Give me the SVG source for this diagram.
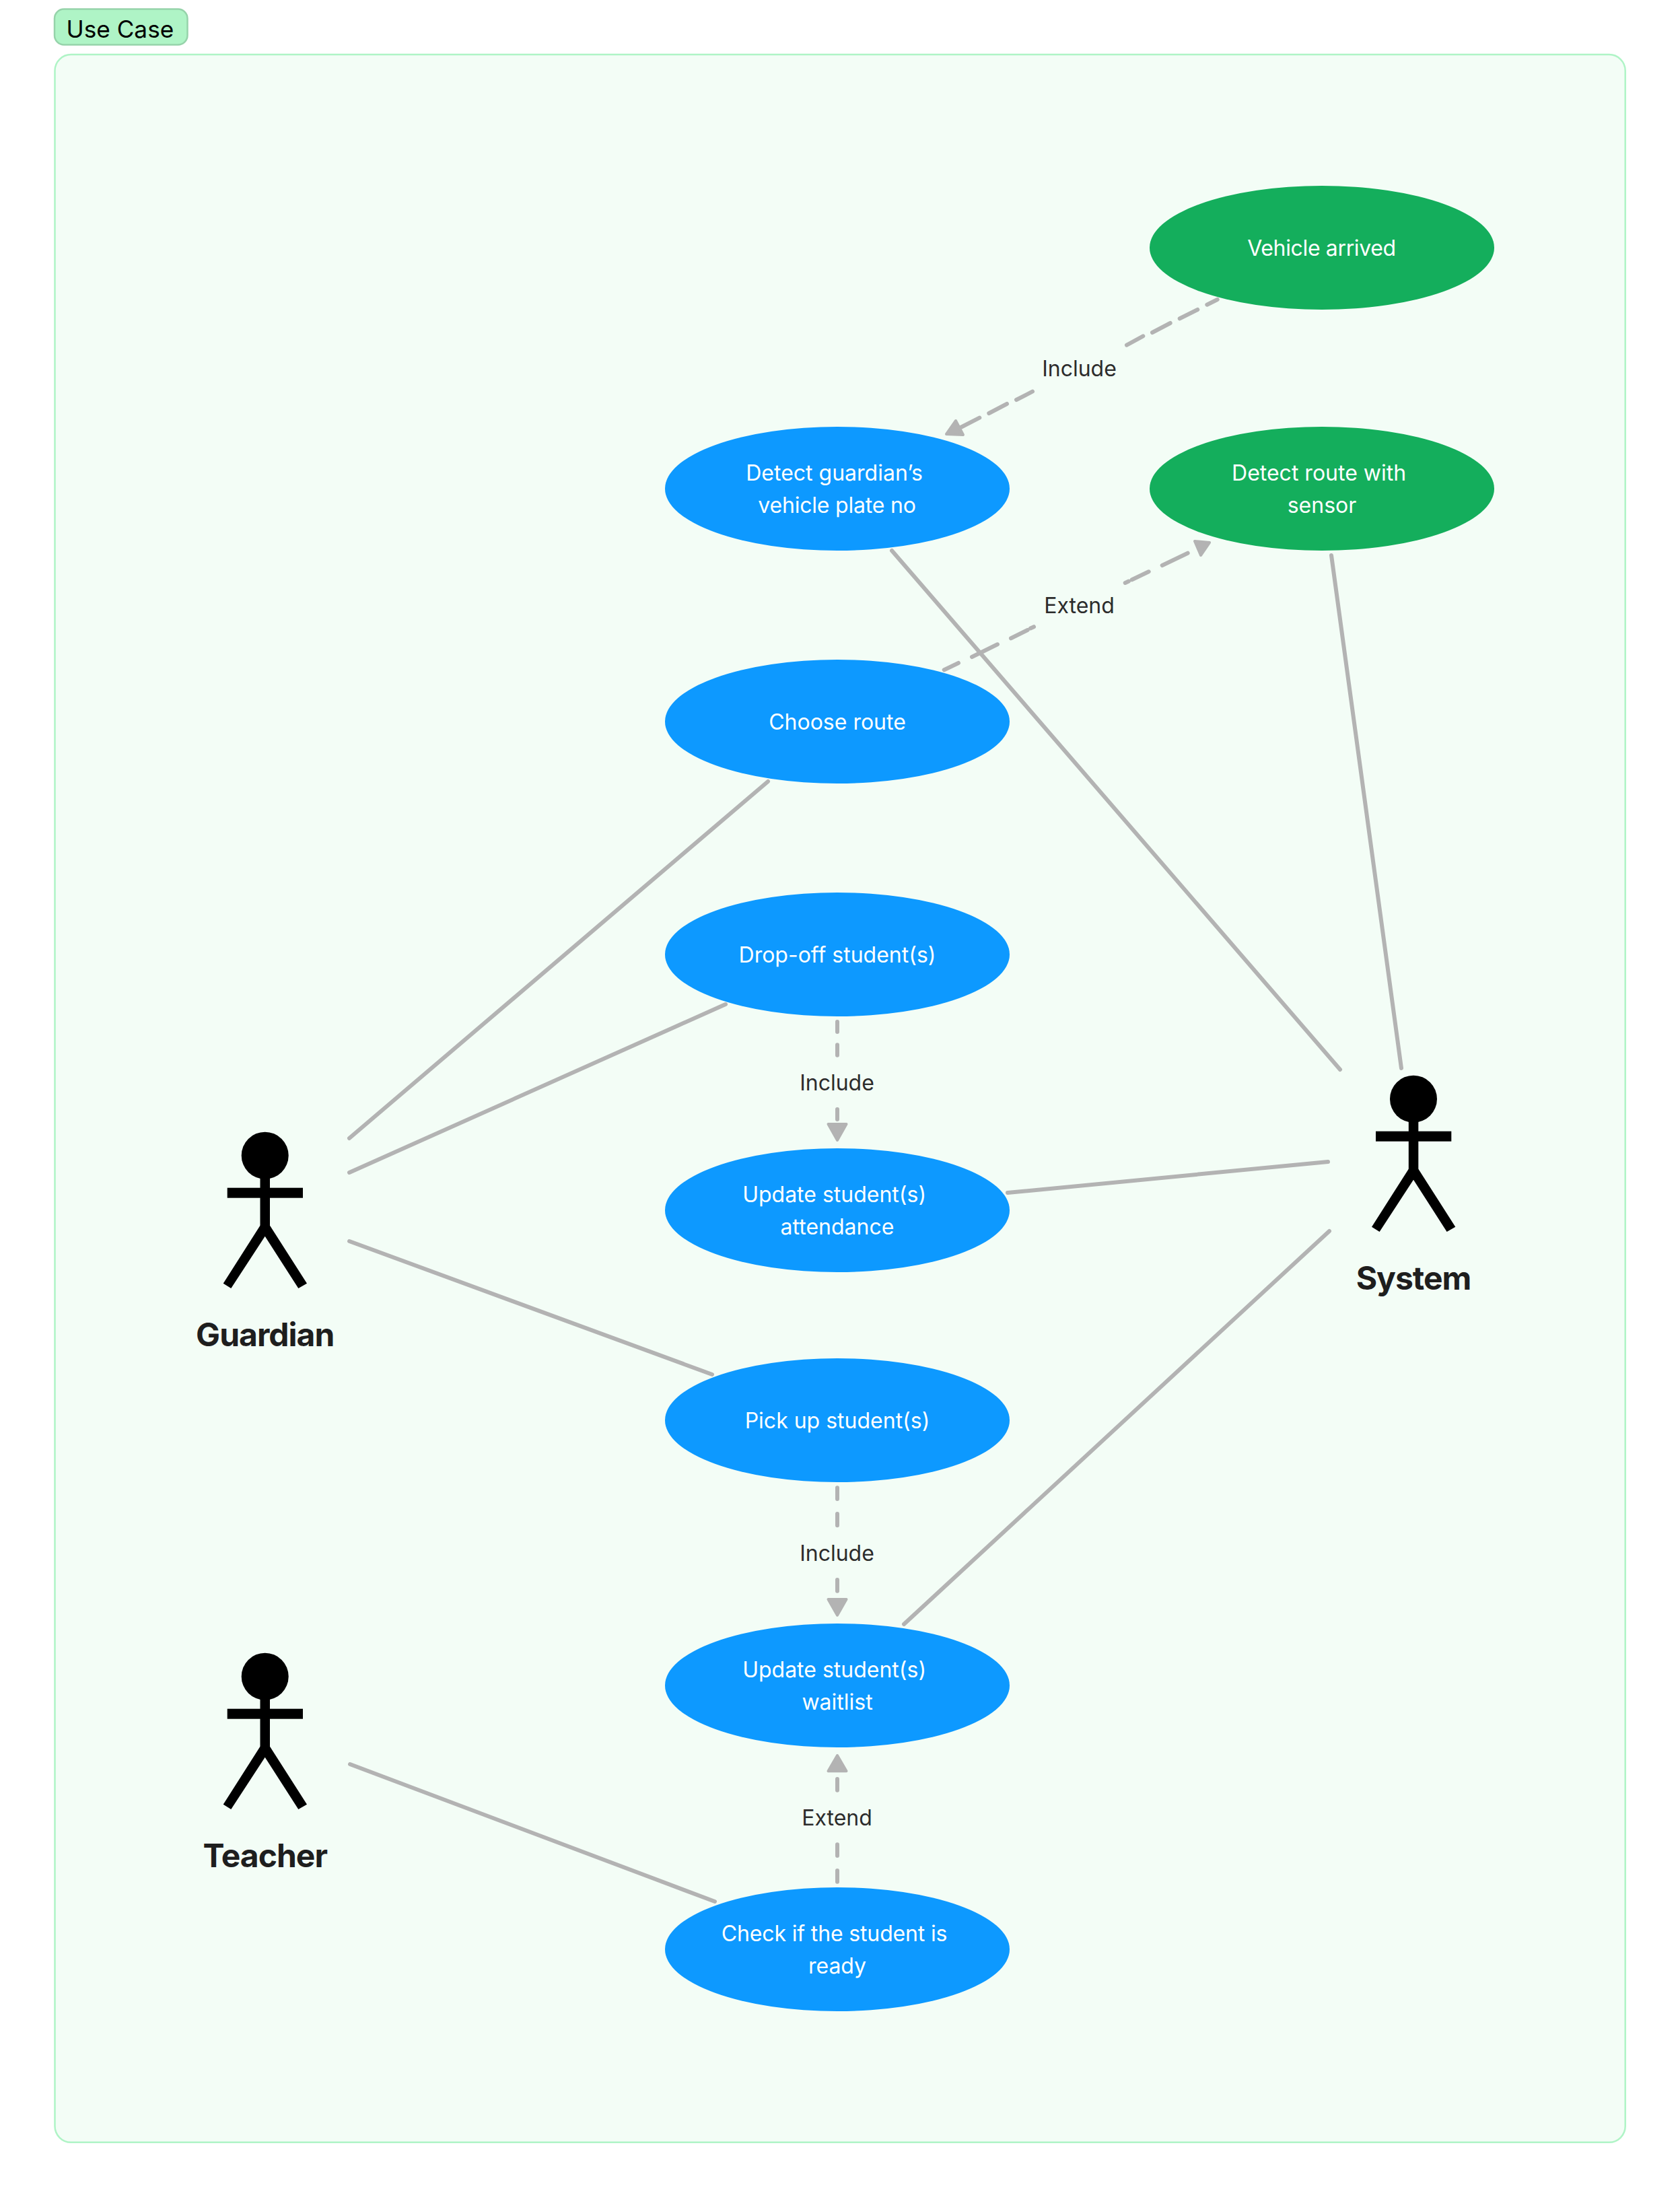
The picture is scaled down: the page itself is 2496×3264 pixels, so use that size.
<svg xmlns="http://www.w3.org/2000/svg" width="2496" height="3264" viewBox="0 0 2496 3264">
<style>
text{font-family:"Inter","Noto Sans",sans-serif}
.uc{fill:#0D99FF}.sys{fill:#14AE5C}
.ut{fill:#fff;font-size:32px;text-anchor:middle}
.lb{fill:#2c2c2c;font-size:32px;text-anchor:middle}
.an{fill:#1E1E1E;font-size:48px;font-weight:700;letter-spacing:-1px;text-anchor:middle}
.ln{fill:none;stroke:#B3B3B3;stroke-width:6;stroke-linecap:round}
.ah{fill:#B3B3B3;stroke:#B3B3B3;stroke-width:4;stroke-linejoin:round}
</style>
<defs>
<g id="actor">
<circle cx="0" cy="0" r="35"/>
<rect x="-7.2" y="30" width="14.5" height="75"/>
<rect x="-56" y="48" width="112.3" height="15"/>
<polygon points="-7.2,104 -62,190 -50.4,197.3 0,120 49.6,197.3 62.3,190 7.3,104"/>
</g>
</defs>
<g id="section">
<rect x="81.5" y="81" width="2333.2" height="3101.8" rx="24" fill="#F3FDF6" stroke="#AFF4C6" stroke-width="2.5"/>
<rect x="81" y="13.5" width="197.5" height="53" rx="14" fill="#AFF4C6" stroke="#96D3AA" stroke-width="2.5"/>
<text x="98.5" y="55.6" font-size="35.2" fill="#000">Use Case</text>
</g>
<g id="connectors">
<path class="ln" d="M1325 818L1991 1589M1978 825L2082 1587M1141 1161L519 1691M1078 1492L519 1742M1058 2042L519 1844M1497 1772L1973 1726M1343 2413L1975 1829M1062 2825L520 2621"/>
<path class="ln" d="M1808.7 445L1793.3 452.7M1779.3 460L1752.7 473.3M1738.7 480L1712 494M1698.3 499.3L1674 512.7M1534 581.7L1510 594M1496 600L1469.3 614M1455.3 620.7L1427.3 635"/>
<polygon class="ah" points="1406,645 1420,625 1431,646"/>
<path class="ln" d="M1402.7 995.3L1424 985M1444 976L1482 957.3M1502 948.3L1526.7 936M1531 933.5L1536 931.2M1671.7 866L1677 863.5M1681.7 861.3L1706.7 849.3M1726.7 840L1764.7 821.7"/>
<polygon class="ah" points="1797,806 1775,804 1784,825"/>
<path class="ln" d="M1244 1518V1533M1244 1552.3V1567.7M1244 1648V1663"/>
<polygon class="ah" points="1230.5,1670 1257.5,1670 1244,1694"/>
<path class="ln" d="M1244 2210.3V2227M1244 2249V2266.3M1244 2347V2363.7"/>
<polygon class="ah" points="1230.5,2376 1257.5,2376 1244,2399.7"/>
<path class="ln" d="M1244 2659.7V2643M1244 2757V2740.3M1244 2795.7V2779"/>
<polygon class="ah" points="1230.5,2631.3 1257.5,2631.3 1244,2608"/>
<text class="lb" x="1603.5" y="559">Include</text>
<text class="lb" x="1603.5" y="910.7">Extend</text>
<text class="lb" x="1243.5" y="1620">Include</text>
<text class="lb" x="1243.5" y="2319">Include</text>
<text class="lb" x="1243.5" y="2711.7">Extend</text>
</g>
<g id="uc-vehicle-arrived"><ellipse class="sys" cx="1964" cy="368" rx="256" ry="92"/><text class="ut" x="1963.5" y="380" letter-spacing="-0.35">Vehicle arrived</text></g>
<g id="uc-detect-plate"><ellipse class="uc" cx="1244" cy="726" rx="256" ry="92"/><text class="ut" x="1239.6" y="714">Detect guardian’s</text><text class="ut" x="1243.5" y="762" letter-spacing="-0.2">vehicle plate no</text></g>
<g id="uc-detect-route"><ellipse class="sys" cx="1964" cy="726" rx="256" ry="92"/><text class="ut" x="1959.6" y="714">Detect route with</text><text class="ut" x="1964" y="762">sensor</text></g>
<g id="uc-choose-route"><ellipse class="uc" cx="1244" cy="1072" rx="256" ry="92"/><text class="ut" x="1244" y="1084">Choose route</text></g>
<g id="uc-drop-off"><ellipse class="uc" cx="1244" cy="1418" rx="256" ry="92"/><text class="ut" x="1244" y="1430">Drop-off student(s)</text></g>
<g id="uc-attendance"><ellipse class="uc" cx="1244" cy="1798" rx="256" ry="92"/><text class="ut" x="1239.6" y="1786">Update student(s)</text><text class="ut" x="1244" y="1834">attendance</text></g>
<g id="uc-pick-up"><ellipse class="uc" cx="1244" cy="2110" rx="256" ry="92"/><text class="ut" x="1244" y="2122">Pick up student(s)</text></g>
<g id="uc-waitlist"><ellipse class="uc" cx="1244" cy="2504" rx="256" ry="92"/><text class="ut" x="1239.6" y="2492">Update student(s)</text><text class="ut" x="1244" y="2540">waitlist</text></g>
<g id="uc-check-ready"><ellipse class="uc" cx="1244" cy="2896" rx="256" ry="92"/><text class="ut" x="1239.6" y="2884" letter-spacing="-0.15">Check if the student is</text><text class="ut" x="1244" y="2932">ready</text></g>
<g id="actor-guardian"><use href="#actor" x="393.7" y="1716.7"/><text class="an" x="393.7" y="2000">Guardian</text></g>
<g id="actor-teacher"><use href="#actor" x="393.7" y="2490.7"/><text class="an" x="393.7" y="2774">Teacher</text></g>
<g id="actor-system"><use href="#actor" x="2100" y="1632.7"/><text class="an" x="2100" y="1916">System</text></g>
</svg>
